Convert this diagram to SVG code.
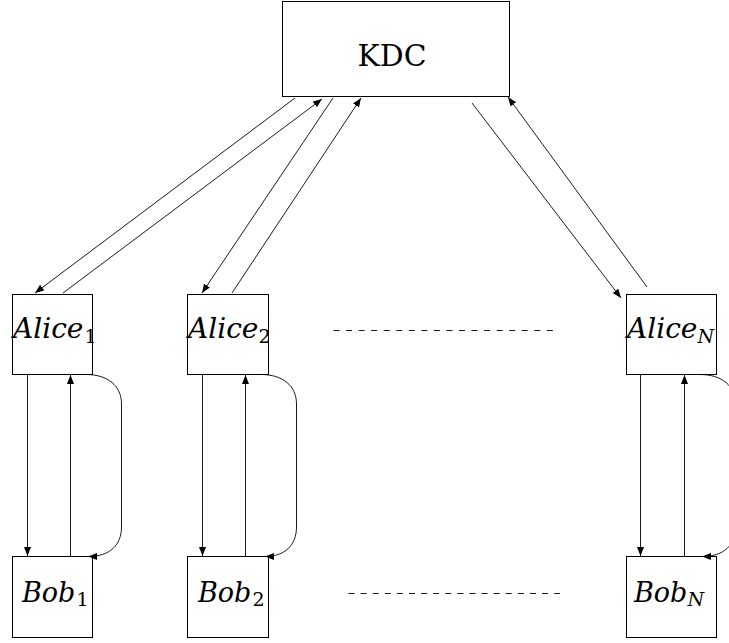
<svg xmlns="http://www.w3.org/2000/svg" width="729" height="643" viewBox="0 0 729 643">
<style>
.box{fill:#fff;stroke:#000;stroke-width:1}
text{font-family:'DejaVu Serif','Liberation Serif',serif;fill:#000}
.rm{font-size:30px}
.ita{font-style:italic;font-size:28px}
.itb{font-style:italic;font-size:27px}
.sub{font-style:italic;font-size:19px}
.subr{font-style:normal;font-size:19px}
.ln{fill:none;stroke:#000;stroke-width:0.9}
.arr{marker-end:url(#ah)}
.dash{fill:none;stroke:#000;stroke-width:0.9}
</style>
<defs>
<marker id="ah" markerUnits="userSpaceOnUse" markerWidth="10" markerHeight="8" refX="9" refY="3.5" orient="auto">
<path d="M0,0 L9,3.5 L0,7 z" fill="#000"/>
</marker>
</defs>
<rect width="729" height="643" fill="#fff"/>
<g id="kdc">
<rect class="box" x="282.5" y="1.5" width="227" height="95"/>
<text class="rm" x="392" y="66" text-anchor="middle" textLength="69" lengthAdjust="spacingAndGlyphs">KDC</text>
</g>
<g id="alice1">
<rect class="box" x="12.5" y="294.5" width="80" height="80"/>
<text class="ita" x="13" y="338">Alice<tspan class="subr" dx="1" dy="5">1</tspan></text>
</g>
<g id="alice2">
<rect class="box" x="187.5" y="294.5" width="81" height="80"/>
<text class="ita" x="188" y="338">Alice<tspan class="subr" dx="0" dy="5">2</tspan></text>
</g>
<g id="aliceN">
<rect class="box" x="626.5" y="294.5" width="90" height="80"/>
<text class="ita" x="627" y="338">Alice<tspan class="sub" dx="0" dy="5">N</tspan></text>
</g>
<g id="bob1">
<rect class="box" x="12.5" y="556.5" width="80" height="81"/>
<text class="itb" x="22" y="602">Bob<tspan class="subr" dx="1" dy="4">1</tspan></text>
</g>
<g id="bob2">
<rect class="box" x="187.5" y="556.5" width="81" height="81"/>
<text class="itb" x="198" y="602">Bob<tspan class="subr" dx="1" dy="4">2</tspan></text>
</g>
<g id="bobN">
<rect class="box" x="626.5" y="556.5" width="90" height="81"/>
<text class="itb" x="634" y="602">Bob<tspan class="sub" dx="0" dy="4">N</tspan></text>
</g>
<g id="connectors">
<line class="ln arr" x1="295" y1="98" x2="35" y2="293"/>
<line class="ln arr" x1="63" y1="293" x2="322" y2="99"/>
<line class="ln arr" x1="333" y1="98" x2="202" y2="293"/>
<line class="ln arr" x1="232" y1="293" x2="361" y2="98"/>
<line class="ln arr" x1="472" y1="103" x2="621" y2="298"/>
<line class="ln arr" x1="647" y1="287" x2="508" y2="97"/>
<line class="ln arr" x1="27.5" y1="375" x2="27.5" y2="556"/>
<line class="ln arr" x1="70.5" y1="556" x2="70.5" y2="375"/>
<line class="ln arr" x1="202.5" y1="375" x2="202.5" y2="556"/>
<line class="ln arr" x1="245.5" y1="556" x2="245.5" y2="375"/>
<line class="ln arr" x1="640.5" y1="375" x2="640.5" y2="556"/>
<line class="ln arr" x1="684.5" y1="556" x2="684.5" y2="375"/>
<path class="ln arr" d="M86 374.5 C108 374.5 121.5 386 121.5 404 L121.5 527 C121.5 545 110 556.5 88 556.5"/>
<path class="ln arr" d="M261 374.5 C283 374.5 296.5 386 296.5 404 L296.5 527 C296.5 545 285 556.5 265 556.5"/>
<path class="ln arr" d="M700 374.5 C722 374.5 735.5 386 735.5 404 L735.5 527 C735.5 545 724 556.5 702 556.5"/>
<line class="dash" x1="333.5" y1="330.5" x2="553" y2="330.5" stroke-dasharray="6 6.55"/>
<line class="dash" x1="348.5" y1="593.5" x2="560" y2="593.5" stroke-dasharray="6 6.1"/>
</g>
</svg>
